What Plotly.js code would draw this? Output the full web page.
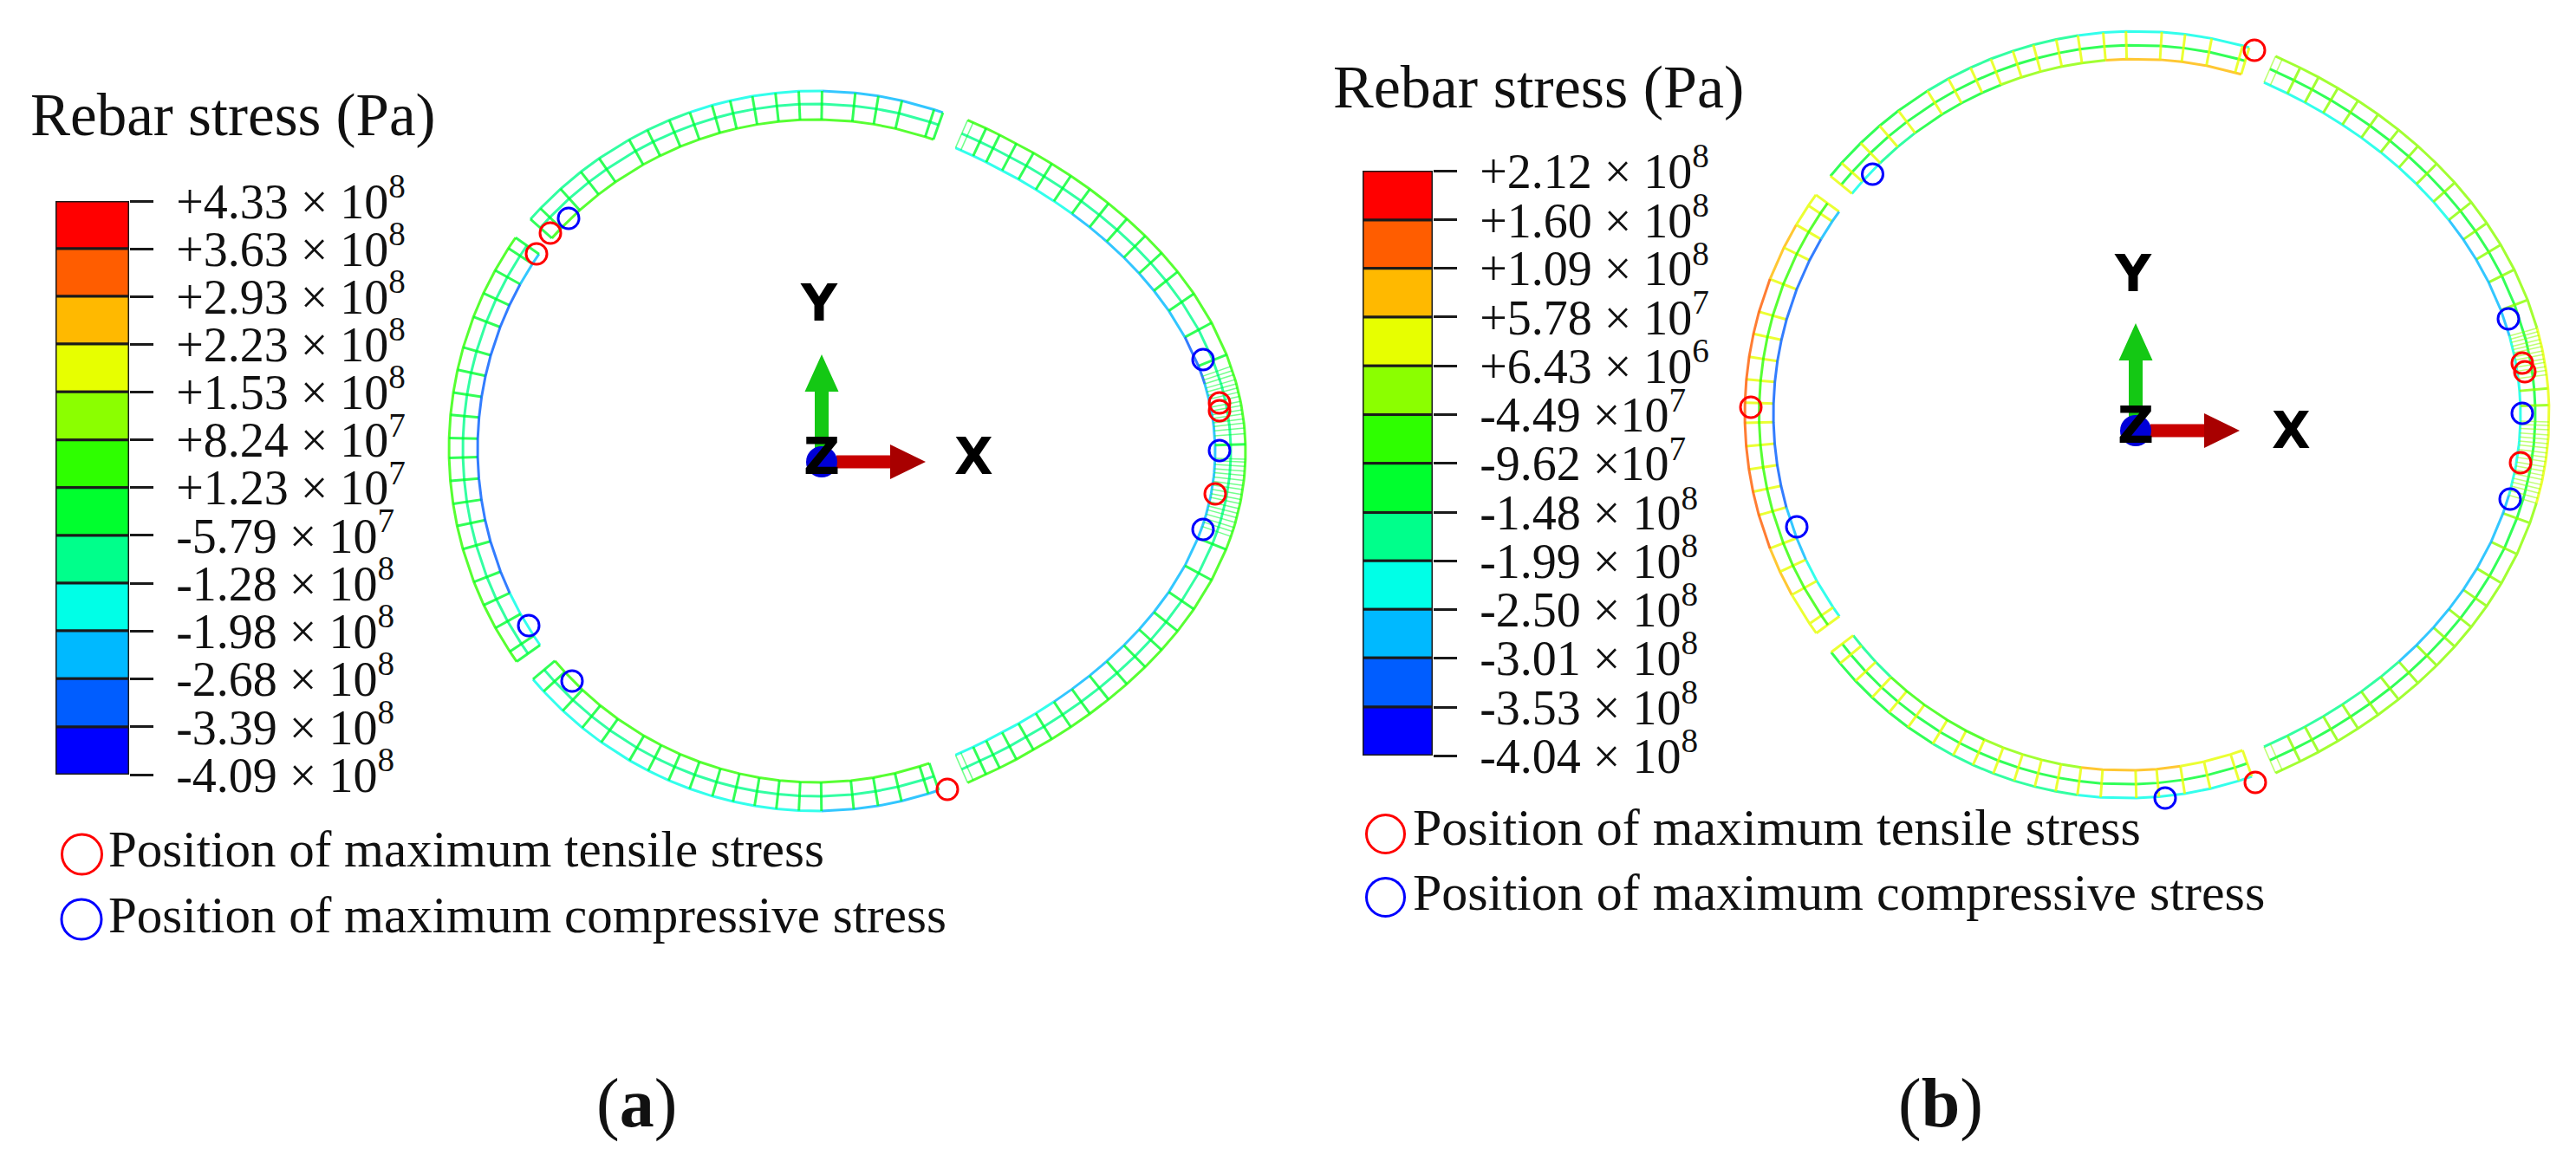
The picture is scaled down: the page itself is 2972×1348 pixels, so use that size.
<!DOCTYPE html>
<html><head><meta charset="utf-8">
<script src="https://cdn.plot.ly/plotly-3.0.1.min.js"></script>
<style>html,body{margin:0;padding:0;background:#fff}#chart{width:2972px;height:1348px}</style>
</head><body><div id="chart"></div>
<script>
// ---- contour legend (Abaqus 12-band palette, top band first)
const bandColors = ['#ff0000','#ff5d00','#ffb900','#e7ff00','#8bff00','#2eff00','#00ff2e','#00ff8b','#00ffe7','#00b9ff','#005dff','#0000ff'];
const levelsA = [4.33e8,3.63e8,2.93e8,2.23e8,1.53e8,8.24e7,1.23e7,-5.79e7,-1.28e8,-1.98e8,-2.68e8,-3.39e8,-4.09e8];
const labelsA = ['+4.33 × 10<sup>8</sup>','+3.63 × 10<sup>8</sup>','+2.93 × 10<sup>8</sup>','+2.23 × 10<sup>8</sup>','+1.53 × 10<sup>8</sup>','+8.24 × 10<sup>7</sup>','+1.23 × 10<sup>7</sup>','-5.79 × 10<sup>7</sup>','-1.28 × 10<sup>8</sup>','-1.98 × 10<sup>8</sup>','-2.68 × 10<sup>8</sup>','-3.39 × 10<sup>8</sup>','-4.09 × 10<sup>8</sup>'];
const levelsB = [2.12e8,1.60e8,1.09e8,5.78e7,6.43e6,-4.49e7,-9.62e7,-1.48e8,-1.99e8,-2.50e8,-3.01e8,-3.53e8,-4.04e8];
const labelsB = ['+2.12 × 10<sup>8</sup>','+1.60 × 10<sup>8</sup>','+1.09 × 10<sup>8</sup>','+5.78 × 10<sup>7</sup>','+6.43 × 10<sup>6</sup>','-4.49 ×10<sup>7</sup>','-9.62 ×10<sup>7</sup>','-1.48 × 10<sup>8</sup>','-1.99 × 10<sup>8</sup>','-2.50 × 10<sup>8</sup>','-3.01 × 10<sup>8</sup>','-3.53 × 10<sup>8</sup>','-4.04 × 10<sup>8</sup>'];
const titleText = 'Rebar stress (Pa)';
const tensileText = 'Position of maximum tensile stress';
const compressiveText = 'Position of maximum compressive stress';

// ---- ring A: rib angles (deg)
const ribsATop = [138.4,136.2,132,128,124.6,119.3,116.2,112.6,109.3,105.8,103,99.6,96.1,92.6,89.1,84.1,80.6,77,72,70.6];
const ribsARight = [54.8,54.2,52.8,51.3,49.4,47.4,45.2,42.8,40.3,37.7,35,32.1,29.3,26.3,22.9,18.5,13.8,12.1,11.5,10.9,10.2,9.6,9,8.4,7.8,7.1,6.5,5.9,5.3,4.6,4,3.3,2.5,1,-1.1,-1.5,-2.1,-2.8,-3.4,-4.1,-4.8,-5.4,-6.1,-6.8,-7.4,-8.1,-8.8,-9.4,-10.1,-10.8,-11.4,-12.1,-14,-18.5,-22.9,-26.3,-29.3,-32.1,-35,-37.7,-40.3,-42.8,-45.2,-47.4,-49.4,-51.3,-52.8,-54.2,-54.8];
const ribsALeft = [145,147,151,155,159,164,167.6,171.2,174.7,178.3,181.4,185,188.6,192.1,195.8,201.2,205.1,209.1,213.4,215.3];
const ribsABottom = [220.1,222.6,226.8,230.8,234.5,239.7,243,246.5,250,253.7,257,260.4,263.8,267.3,270.8,275.8,279.6,283.3,287.6,289.3];
// ---- ring B
const ribsBTop = [140.7,138.2,134.2,130.5,127,121.9,118.4,114.8,111.6,108.2,105.1,101.7,98.5,94.8,91.5,86.3,82.9,79,74.4,73.4];
const ribsBRight = [59.5,58.7,56.5,54.2,51.7,49,46.2,43.2,40.2,37.1,33.9,30.7,27.4,24.1,20.4,16,12,11.5,11,10.4,9.9,9.4,8.8,8.3,7.7,7.2,6.6,6.1,5.5,3.6,1.3,-1,-1.5,-2.1,-2.8,-3.4,-4,-4.6,-5.3,-5.9,-6.5,-7.2,-7.8,-8.4,-9,-9.7,-10.3,-10.9,-11.6,-12.3,-15.1,-19.6,-23.9,-27.4,-30.7,-33.9,-37.1,-40.2,-43.2,-46.2,-49,-51.7,-54.2,-56.5,-58.7,-59.5];
const ribsBLeft = [144,146,149.5,153.5,158.8,164.1,167.6,171.2,174.7,178.3,181.4,185,188.6,192.1,195.8,201.2,205.1,209.1,214.3,216.1];
const ribsBBottom = [217.4,219.6,223.2,226.8,230.3,234,238.6,242.2,245.6,249,252.4,255.7,259,262.4,266,271.5,275,279,283,287.6,289.7];

// ---- arc colours: [from angle, to angle, band index]
const ringSegmentsA = [
 {c:[-35.5,-24.5],rx:440.6,ry:440.6,ribs:ribsATop,ribBand:6,thick:33,mid:15,
  outer:[[60,90,9],[90,110,8],[110,145,7]],middle:[[60,145,7]],inner:[[60,145,5]]},
 {c:[-297,0],rx:757,ry:468,ribs:ribsARight,ribBand:6,thick:35,mid:17,
  outer:[[-60,60,5]],middle:[[-60,60,7]],inner:[[40,60,8],[20,40,9],[11,20,10],[-11,11,9],[-43,-11,9],[-60,-43,8]]},
 {c:[-34,3],rx:425,ry:425,ribs:ribsALeft,ribBand:6,thick:33,mid:16,
  outer:[[140,220,5]],middle:[[140,220,7]],inner:[[140,150,9],[150,205,10],[205,220,8]]},
 {c:[-35.2,12.3],rx:427.3,ry:427.3,ribs:ribsABottom,ribBand:6,thick:33,mid:17,
  outer:[[215,270,8],[270,295,9]],middle:[[215,295,7]],inner:[[215,295,5]]}
];
const ringSegmentsB = [
 {c:[-28.3,-14],rx:456,ry:456,ribs:ribsBTop,ribBand:3,thick:32,mid:16,
  outer:[[60,98,8],[98,122,7],[122,145,6]],middle:[[60,145,6]],inner:[[60,95,2],[95,110,4],[110,125,6],[125,133,7],[133,145,8]]},
 {c:[-193,-0.5],rx:641,ry:480,ribs:ribsBRight,ribBand:4,thick:33,mid:16,
  outer:[[13,65,4],[-13,13,3],[-65,-13,4]],middle:[[-65,65,6]],inner:[[30,65,8],[12,30,9],[-12,12,8],[-40,-12,9],[-65,-40,7]]},
 {c:[-50.2,0.5],rx:429.8,ry:429.8,ribs:ribsBLeft,ribBand:3,thick:33,mid:16.5,
  outer:[[140,150,3],[150,158,2],[158,200,1],[200,208,2],[208,220,3]],middle:[[140,220,5]],inner:[[140,150,9],[150,195,10],[195,205,9],[205,220,8]]},
 {c:[-39.5,-14.2],rx:429,ry:429,ribs:ribsBBottom,ribBand:3,thick:32,mid:16,
  outer:[[215,240,6],[240,262,7],[262,295,8]],middle:[[215,295,6]],inner:[[215,228,7],[228,245,5],[245,262,4],[262,280,2],[280,295,3]]}
];

// ---- marked positions relative to each ring
const tensileAx = [-358,-342,430,430,425,116], tensileAy = [228,252,56,47,-49,-390];
const compressAx = [-321,411,430,411,-367,-317], compressAy = [269,106,1,-90,-201,-265];
const tensileBx = [108,-473,417,420,415,109], tensileBy = [420,8,59,49,-56,-425];
const compressBx = [-332.5,401,417,403,-420,5], compressBy = [277,110,1,-98,-130,-443];
const legendMarkA = [[-882.5,-465],[-883,-540]], legendMarkB = [[-894.5,-484.5],[-894.5,-557.5]];

// ---- triad glyphs, relative to the triad origin
const triadGreenX = [-8,8,8,19.5,0,-19.5,-8], triadGreenY = [0,0,81,81,124,81,81];
const triadRedShaftX = [17,79,79,17], triadRedShaftY = [-7.5,-7.5,7.5,7.5];
const triadRedHeadX = [79,120,79], triadRedHeadY = [20,0,-20];
const triadOriginA = [-29,-12], triadOriginB = [-29,-19];

const W = 2972, H = 1348;
const px = x => x / W, py = y => 1 - y / H;
const traces = [];

function addRing(segs, xa, ya) {
  const buckets = {};
  function bucket(band, w) {
    const k = band + '|' + w;
    return buckets[k] || (buckets[k] = {band, w, x: [], y: [], last: null});
  }
  // point on the outer ellipse, moved inward along its normal by off
  function pt(s, off, deg) {
    const t = deg * Math.PI / 180, ct = Math.cos(t), st = Math.sin(t);
    const nx = ct / s.rx, ny = st / s.ry, n = Math.hypot(nx, ny);
    return [s.c[0] + s.rx * ct - off * nx / n, s.c[1] + s.ry * st - off * ny / n];
  }
  segs.forEach((s, si) => {
    [[0, s.outer], [s.mid, s.middle], [s.thick, s.inner]].forEach(([off, runs], ai) => {
      for (let i = 0; i + 1 < s.ribs.length; i++) {
        const m = (s.ribs[i] + s.ribs[i + 1]) / 2;
        const run = runs.find(r => m >= r[0] && m <= r[1]) || runs[0];
        const b = bucket(run[2], 3);
        const id = si + '-' + ai + '-' + i;
        const p1 = pt(s, off, s.ribs[i]), p2 = pt(s, off, s.ribs[i + 1]);
        if (b.last !== si + '-' + ai + '-' + (i - 1)) {
          if (b.x.length) { b.x.push(null); b.y.push(null); }
          b.x.push(p1[0]); b.y.push(p1[1]);
        }
        b.x.push(p2[0]); b.y.push(p2[1]);
        b.last = id;
      }
    });
    s.ribs.forEach((a, i) => {
      const nb = Math.min(i > 0 ? Math.abs(a - s.ribs[i - 1]) : 9, i + 1 < s.ribs.length ? Math.abs(a - s.ribs[i + 1]) : 9);
      const dense = nb < 1;
      const b = bucket(s.ribBand, dense ? 1.5 : 3);
      const p1 = pt(s, 0, a), p2 = pt(s, s.thick, a);
      if (b.x.length) { b.x.push(null); b.y.push(null); }
      b.x.push(p1[0], p2[0]); b.y.push(p1[1], p2[1]);
      b.last = null;
    });
  });
  Object.values(buckets).forEach(b => traces.push({
    type: 'scatter', mode: 'lines', x: b.x, y: b.y, xaxis: xa, yaxis: ya, hoverinfo: 'skip',
    line: {color: bandColors[b.band], width: b.w}, opacity: b.w < 3 ? 0.55 : 0.8, showlegend: false
  }));
}

function addMarks(x, y, color, xa, ya, size, width) {
  traces.push({type: 'scatter', mode: 'markers', x, y, xaxis: xa, yaxis: ya, hoverinfo: 'skip', showlegend: false,
    marker: {symbol: 'circle-open', size, color, line: {color, width}}});
}

function addTriad(o, xa, ya) {
  const poly = (xs, ys, color) => traces.push({type: 'scatter', mode: 'none', fill: 'toself', fillcolor: color,
    x: xs.map(v => v + o[0]), y: ys.map(v => v + o[1]), xaxis: xa, yaxis: ya, hoverinfo: 'skip', showlegend: false});
  poly(triadGreenX, triadGreenY, '#14c814');
  poly(triadRedShaftX, triadRedShaftY, '#c80000');
  poly(triadRedHeadX, triadRedHeadY, '#a80000');
  traces.push({type: 'scatter', mode: 'markers', x: [o[0]], y: [o[1]], xaxis: xa, yaxis: ya, hoverinfo: 'skip', showlegend: false,
    marker: {size: 36, color: '#0000d8'}});
}

function addBar(levels, xa, ya) {
  traces.push({type: 'bar', xaxis: xa, yaxis: ya, x: levels.slice(1).map(() => 0), width: 1,
    base: levels.slice(1), y: levels.slice(1).map((v, i) => levels[i] - v), cliponaxis: false, hoverinfo: 'skip', showlegend: false,
    marker: {color: bandColors, line: {color: '#1a1a1a', width: 3}}});
}

addRing(ringSegmentsA, 'x', 'y');
addRing(ringSegmentsB, 'x2', 'y2');
addTriad(triadOriginA, 'x', 'y');
addTriad(triadOriginB, 'x2', 'y2');
addMarks(tensileAx, tensileAy, '#ff0000', 'x', 'y', 24, 3);
addMarks(compressAx, compressAy, '#0000ff', 'x', 'y', 24, 3);
addMarks(tensileBx, tensileBy, '#ff0000', 'x2', 'y2', 24, 3);
addMarks(compressBx, compressBy, '#0000ff', 'x2', 'y2', 24, 3);
addMarks([legendMarkA[0][0]], [legendMarkA[0][1]], '#ff0000', 'x', 'y', 46, 3);
addMarks([legendMarkA[1][0]], [legendMarkA[1][1]], '#0000ff', 'x', 'y', 46, 3);
addMarks([legendMarkB[0][0]], [legendMarkB[0][1]], '#ff0000', 'x2', 'y2', 44, 3);
addMarks([legendMarkB[1][0]], [legendMarkB[1][1]], '#0000ff', 'x2', 'y2', 44, 3);
addBar(levelsA, 'x3', 'y3');
addBar(levelsB, 'x4', 'y4');

const hidden = {visible: false, showgrid: false, zeroline: false};
const serif = 'Liberation Serif';
function ringAxes(cx, cy) {
  return [{...hidden, domain: [0, 1], range: [-cx, W - cx]}, {...hidden, domain: [0, 1], range: [cy - H, cy]}];
}
const [xA, yA] = ringAxes(977, 521), [xB, yB] = ringAxes(2493, 478);
function barX(l, r) { return {...hidden, anchor: 'free', domain: [px(l), px(r)], range: [-0.5, 0.5]}; }
function barY(top, bottom, levels, labels, anchor) {
  return {domain: [py(bottom), py(top)], range: [levels[levels.length - 1], levels[0]], anchor, side: 'right',
    tickmode: 'array', tickvals: levels, ticktext: labels, ticks: 'outside', ticklen: 27, tickwidth: 3, tickcolor: '#1a1a1a',
    ticklabelstandoff: 15, showline: false, showgrid: false, zeroline: false, automargin: false,
    tickfont: {family: serif, size: 56, color: '#111'}};
}
function txt(text, x, y, size, anchor, family, color) {
  return {text, xref: 'paper', yref: 'paper', x: px(x), y: py(y), xanchor: anchor || 'left', yanchor: 'middle', showarrow: false,
    font: {family: family || serif, size, color: color || '#111'}};
}
function triadTxt(text, o, dx, dy, xr, yr) {
  return {text: '<b>' + text + '</b>', xref: xr, yref: yr, x: o[0] + dx, y: o[1] + dy, showarrow: false, xanchor: 'center', yanchor: 'middle',
    font: {family: 'DejaVu Sans', size: 58, color: '#000'}};
}

const layout = {
  width: W, height: H, margin: {l: 0, r: 0, t: 0, b: 0}, paper_bgcolor: '#fff', plot_bgcolor: 'rgba(0,0,0,0)', showlegend: false,
  barmode: 'overlay',
  xaxis: xA, yaxis: yA, xaxis2: {...xB, overlaying: 'x'}, yaxis2: {...yB, overlaying: 'y'},
  xaxis3: barX(64, 149), yaxis3: barY(232, 894, levelsA, labelsA, 'x3'),
  xaxis4: barX(1572, 1653), yaxis4: barY(197, 872, levelsB, labelsB, 'x4'),
  annotations: [
    txt(titleText, 33, 133, 69), txt(titleText, 1536, 100, 70),
    txt(tensileText, 123, 980, 59), txt(compressiveText, 123, 1056, 59),
    txt(tensileText, 1628, 955, 60), txt(compressiveText, 1628, 1030, 60),
    txt('(<b>a</b>)', 734, 1273, 80, 'center'), txt('(<b>b</b>)', 2239, 1273, 80, 'center'),
    triadTxt('Y', triadOriginA, -3, 183, 'x', 'y'), triadTxt('Z', triadOriginA, 0, 6, 'x', 'y'), triadTxt('X', triadOriginA, 175, 6, 'x', 'y'),
    triadTxt('Y', triadOriginB, -3, 181, 'x2', 'y2'), triadTxt('Z', triadOriginB, 0, 6, 'x2', 'y2'), triadTxt('X', triadOriginB, 179, 0, 'x2', 'y2')
  ]
};
Plotly.newPlot('chart', traces, layout, {staticPlot: true, displayModeBar: false});
</script></body></html>
